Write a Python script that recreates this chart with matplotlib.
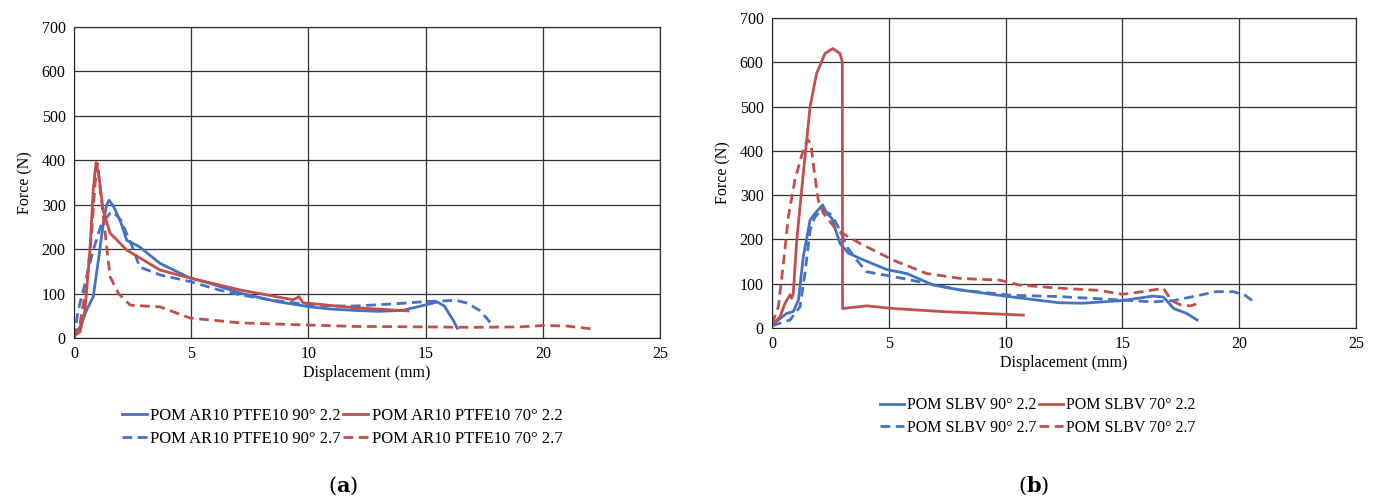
import numpy as np
import matplotlib.pyplot as plt

plt.rcParams['font.family'] = ['Liberation Serif', 'DejaVu Serif']

BLUE = '#4472C4'
RED = '#C0504D'

# (a) POM AR10 PTFE10 curves: displacement (mm), force (N)
a_90_22_x = [0, 0.26, 0.54, 0.82, 1.04, 1.25, 1.39, 1.5, 1.7, 2.0, 2.25, 2.8, 3.67, 4.95, 5.8, 7.1, 8.65,
             10.07, 11, 12, 13, 14, 14.8, 15.5, 15.8, 16.0, 16.2, 16.35]
a_90_22_y = [8, 25, 63, 93, 175, 258, 299, 310, 295, 260, 220, 205, 168, 135, 123, 101, 82,
             70, 65, 62, 60, 62, 72, 81, 72, 55, 38, 22]
a_90_27_x = [0, 0.18, 0.47, 0.82, 1.18, 1.54, 1.68, 2.0, 2.46, 2.8, 3.67, 4.95, 6.2, 7.1, 8.5, 10, 11,
             12, 13, 14, 15, 16, 16.3, 16.8, 17.3, 17.6, 17.9]
a_90_27_y = [0, 63, 123, 198, 258, 281, 284, 265, 209, 160, 142, 127, 108, 97, 85, 75, 72,
             72, 75, 78, 82, 84, 85, 78, 62, 45, 25]
a_70_22_x = [0, 0.26, 0.47, 0.68, 0.82, 0.94, 1.05, 1.24, 1.54, 2.25, 3.67, 4.95, 7.1, 9.35, 9.6,
             9.77, 10.07, 11, 12, 13, 14.25]
a_70_22_y = [5, 14, 63, 198, 333, 395, 370, 288, 236, 198, 153, 135, 108, 86, 93,
             79, 78, 73, 68, 65, 61]
a_70_27_x = [0, 0.25, 0.54, 0.75, 0.9, 1.0, 1.25, 1.54, 1.9, 2.4, 3.67, 4.95, 7.1, 10.07, 12, 15, 17,
             19, 20, 21, 22.2]
a_70_27_y = [0, 30, 123, 235, 348, 393, 273, 138, 100, 74, 70, 45, 34, 29, 26, 25, 24,
             25, 28, 27, 20]

# (b) POM SLBV curves
b_90_22_x = [0, 0.63, 0.91, 1.13, 1.34, 1.63, 1.91, 2.17, 2.34, 2.56, 2.91, 3.27, 3.77, 4.91, 5.77,
             6.9, 8.05, 9.97, 12.3, 13.3, 15.0, 16.3, 16.75, 17.2, 17.75, 18.2]
b_90_22_y = [7, 33, 37, 63, 161, 244, 263, 278, 259, 248, 191, 169, 157, 132, 123,
             97, 86, 72, 57, 56, 62, 72, 70, 44, 33, 18]
b_90_27_x = [0, 0.77, 1.2, 1.41, 1.63, 1.84, 2.13, 2.34, 2.56, 2.91, 3.2, 3.63, 4.05, 5.2, 6.62,
             8.05, 10.2, 12.3, 15.0, 16.3, 17.2, 18.3, 19.0, 19.75, 20.25, 20.7]
b_90_27_y = [5, 18, 48, 123, 221, 251, 266, 262, 255, 221, 184, 153, 127, 116, 101,
             86, 74, 71, 63, 59, 62, 74, 82, 82, 74, 56]
b_70_22_x = [0, 0.34, 0.56, 0.77, 0.84, 0.91, 1.06, 1.34, 1.63, 1.91, 2.27, 2.6, 2.91, 3.01, 3.02,
             4.05, 5.2, 7.3, 9.5, 10.76]
b_70_22_y = [7, 25, 56, 75, 67, 78, 199, 349, 500, 575, 620, 631, 620, 601, 44,
             50, 44, 37, 32, 29]
b_70_27_x = [0, 0.27, 0.49, 0.7, 0.98, 1.27, 1.51, 1.66, 1.8, 1.98, 2.2, 2.77, 3.77, 5.2, 6.62,
             8.05, 9.76, 10.6, 12.3, 14, 15, 16.0, 16.75, 17.1, 17.5, 17.9, 18.3]
b_70_27_y = [9, 48, 146, 251, 334, 390, 426, 417, 357, 289, 259, 221, 191, 153, 123,
             112, 108, 97, 90, 85, 76, 83, 90, 62, 52, 50, 56]

labels_a = ['POM AR10 PTFE10 90° 2.2', 'POM AR10 PTFE10 70° 2.2',
            'POM AR10 PTFE10 90° 2.7', 'POM AR10 PTFE10 70° 2.7']
labels_b = ['POM SLBV 90° 2.2', 'POM SLBV 70° 2.2',
            'POM SLBV 90° 2.7', 'POM SLBV 70° 2.7']

W, H = 1379, 497
fig = plt.figure(figsize=(W / 100, H / 100), dpi=100)
ax_a = fig.add_axes([74 / W, 1 - 338 / H, 586 / W, 311 / H])
ax_b = fig.add_axes([772 / W, 1 - 328 / H, 584 / W, 310 / H])

dash = (3.5, 2.0)


def draw(ax, curves, labels, leg_xy, leg_size):
    (x1, y1), (x2, y2), (x3, y3), (x4, y4) = curves
    l1, = ax.plot(x1, y1, color=BLUE, lw=2)
    l3, = ax.plot(x3, y3, color=BLUE, lw=2, dashes=dash)
    l2, = ax.plot(x2, y2, color=RED, lw=2)
    l4, = ax.plot(x4, y4, color=RED, lw=2, dashes=dash)
    ax.set_xlim(0, 25)
    ax.set_ylim(0, 700)
    ax.set_xticks(range(0, 26, 5))
    ax.set_yticks(range(0, 701, 100))
    ax.grid(True, color='#333333', lw=0.9)
    ax.set_axisbelow(True)
    ax.tick_params(length=0, labelsize=11.5, pad=6)
    for s in ['top', 'right']:
        ax.spines[s].set_color('#333333')
        ax.spines[s].set_linewidth(0.9)
    for s in ['left', 'bottom']:
        ax.spines[s].set_color('#222222')
    ax.set_xlabel('Displacement (mm)', fontsize=11.5, labelpad=2)
    ax.set_ylabel('Force (N)', fontsize=11.5, labelpad=6)
    # row-wise legend: 90° 2.2, 70° 2.2 / 90° 2.7, 70° 2.7
    ax.legend([l1, l3, l2, l4], [labels[0], labels[2], labels[1], labels[3]],
              ncol=2, frameon=False, fontsize=leg_size, handlelength=1.5,
              handletextpad=0.2, columnspacing=0.15, labelspacing=0.4,
              loc='upper center', bbox_to_anchor=leg_xy,
              bbox_transform=fig.transFigure)


draw(ax_a, [(a_90_22_x, a_90_22_y), (a_70_22_x, a_70_22_y),
            (a_90_27_x, a_90_27_y), (a_70_27_x, a_70_27_y)], labels_a,
     (342 / W, 1 - 393 / H), 12)
draw(ax_b, [(b_90_22_x, b_90_22_y), (b_70_22_x, b_70_22_y),
            (b_90_27_x, b_90_27_y), (b_70_27_x, b_70_27_y)], labels_b,
     (1038 / W, 1 - 383 / H), 11.5)

for cx, letter in [(343, 'a'), (1034, 'b')]:
    fig.text(cx / W, 1 - 486 / H, r'($\mathbf{%s}$)' % letter, ha='center', va='center',
             fontsize=15, family='DejaVu Serif', math_fontfamily='dejavuserif')

fig.savefig('out.png', dpi=100)
